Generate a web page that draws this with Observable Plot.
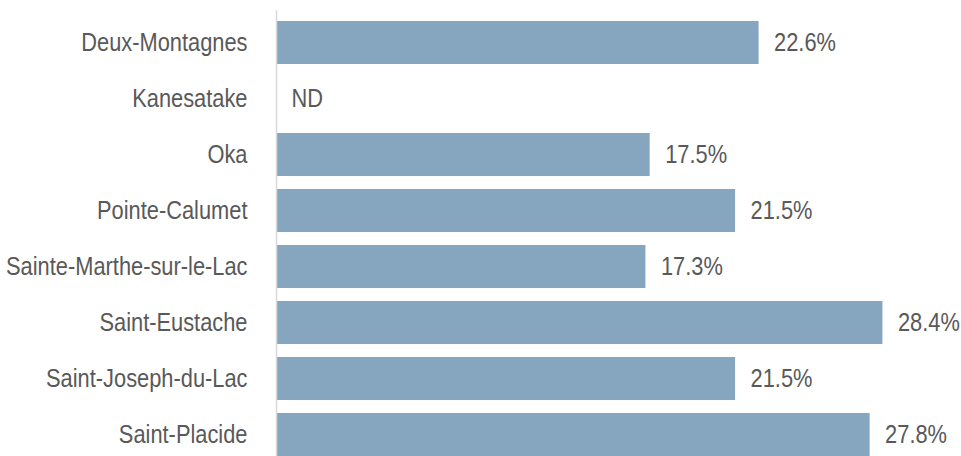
<!DOCTYPE html>
<html><head><meta charset="utf-8">
<script src="https://cdn.jsdelivr.net/npm/d3@7"></script>
<script src="https://cdn.jsdelivr.net/npm/@observablehq/plot@0.6"></script>
<style>body{margin:0;background:#fff;overflow:hidden}</style>
</head><body><div id="chart"></div>
<script>
const categories = ["Deux-Montagnes","Kanesatake","Oka","Pointe-Calumet","Sainte-Marthe-sur-le-Lac","Saint-Eustache","Saint-Joseph-du-Lac","Saint-Placide"];
const values = [22.6, null, 17.5, 21.5, 17.3, 28.4, 21.5, 27.8];
const labels = ["22.6%","ND","17.5%","21.5%","17.3%","28.4%","21.5%","27.8%"];

const data = categories.map((c,i)=>({cat:c, v:values[i], label:labels[i]}));
const font = "'Liberation Sans', Arial, sans-serif";

const chart = Plot.plot({
  width: 961, height: 456,
  marginLeft: 276, marginRight: 0, marginTop: 10.25, marginBottom: -9.5,
  style: {fontFamily: font, fontSize: "26px", color: "#595959", background: "#fff"},
  x: {domain: [0, 32.08], axis: null},
  y: {domain: categories, paddingInner: 0.237, paddingOuter: 0.1185, label: null, axis: null},
  marks: [
    Plot.barX(data.filter(d=>d.v!=null), {x: "v", y: "cat", fill: "#86a6bf"}),
    Plot.ruleX([0], {stroke: "#d9d9d9", strokeWidth: 1.5}),
    Plot.text(data, {x: d=>d.v ?? 0, y: "cat", text: "label", textAnchor: "start", dx: 15, fill: "#595959", fontSize: 26}),
    Plot.axisY({tickSize: 0, tickPadding: 29, fontSize: 26, fill: "#595959"})
  ]
});
document.getElementById("chart").appendChild(chart);
// emulate a narrow (Arial Narrow-like) face by condensing each text horizontally around its anchor
chart.querySelectorAll("text").forEach(t => {
  const x = parseFloat(t.getAttribute("x") || "0") || 0;
  const prev = t.getAttribute("transform") || "";
  t.setAttribute("transform", `${prev} translate(${x},0) scale(0.84,1) translate(${-x},0)`);
});
</script></body></html>
